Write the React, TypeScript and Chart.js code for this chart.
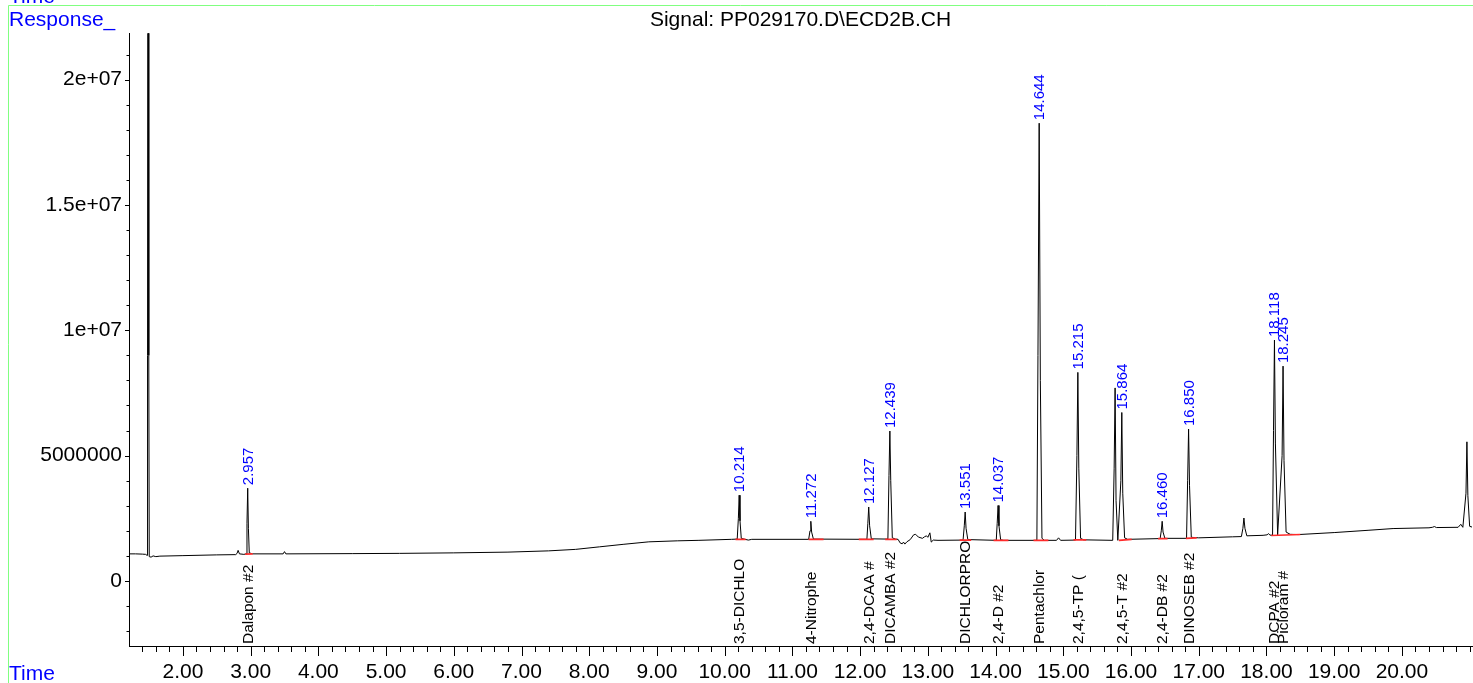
import React, { useEffect, useRef } from "react";
import { Chart, registerables } from "chart.js";

Chart.register(...registerables);

const FONT = '"Liberation Sans", Arial, Helvetica, sans-serif';

const signalTitle = "Signal: PP029170.D\\ECD2B.CH";
const yAxisName = "Response_";
const xAxisName = "Time";

// Chromatogram trace: [retention time (min), response (x 1e6)]
const signal: [number, number][] = [
  [1.204, 1.08], [1.3, 1.08], [1.4, 1.07], [1.45, 1.06], [1.47, 1.02], [1.478, 9.0], [1.487, 60],
  [1.496, 9.0], [1.503, 0.97], [1.53, 0.95], [1.56, 1.0], [1.6, 0.97], [1.66, 0.99], [2.0, 1.01],
  [2.5, 1.04], [2.78, 1.05], [2.8, 1.1], [2.815, 1.22], [2.835, 1.08], [2.9, 1.06], [2.935, 1.08],
  [2.946, 2.3], [2.957, 3.7], [2.967, 2.1], [2.98, 1.12], [3.03, 1.08], [3.48, 1.08], [3.5, 1.17],
  [3.52, 1.08], [4.5, 1.09], [5.2, 1.1], [6.0, 1.12], [6.8, 1.15], [7.4, 1.2], [7.8, 1.26],
  [8.15, 1.36], [8.5, 1.46], [8.88, 1.56], [9.3, 1.6], [9.62, 1.62], [10.1, 1.66], [10.185, 1.67],
  [10.202, 2.5], [10.214, 3.42], [10.226, 2.4], [10.245, 1.7], [10.3, 1.66], [10.35, 1.63],
  [10.4, 1.66], [11.24, 1.66], [11.26, 2.0], [11.272, 2.38], [11.284, 1.95], [11.31, 1.67],
  [12.1, 1.66], [12.114, 2.3], [12.127, 2.95], [12.14, 2.2], [12.165, 1.68], [12.41, 1.67],
  [12.426, 4.2], [12.439, 5.98], [12.452, 4.0], [12.475, 1.72], [12.52, 1.67], [12.56, 1.66],
  [12.59, 1.52], [12.62, 1.48], [12.64, 1.55], [12.66, 1.47], [12.69, 1.56], [12.74, 1.65],
  [12.79, 1.84], [12.82, 1.86], [12.86, 1.75], [12.92, 1.7], [12.95, 1.76], [12.98, 1.8],
  [13.0, 1.74], [13.03, 1.92], [13.05, 1.55], [13.08, 1.63], [13.15, 1.62], [13.52, 1.63],
  [13.538, 2.2], [13.551, 2.75], [13.564, 2.1], [13.59, 1.65], [14.01, 1.62], [14.024, 2.3],
  [14.037, 3.01], [14.05, 2.2], [14.075, 1.64], [14.12, 1.62], [14.61, 1.62], [14.626, 9.0],
  [14.644, 18.26], [14.661, 8.0], [14.685, 1.7], [14.72, 1.62], [14.9, 1.62], [14.93, 1.72],
  [14.96, 1.62], [15.18, 1.63], [15.201, 5.0], [15.215, 8.32], [15.229, 4.5], [15.255, 1.7],
  [15.3, 1.64], [15.73, 1.62], [15.751, 4.5], [15.765, 7.7], [15.779, 3.2], [15.805, 1.62],
  [15.85, 4.0], [15.864, 6.72], [15.878, 3.5], [15.905, 1.72], [15.95, 1.66], [16.43, 1.69],
  [16.447, 2.0], [16.46, 2.38], [16.473, 1.95], [16.5, 1.7], [16.82, 1.7], [16.836, 4.0],
  [16.85, 6.06], [16.864, 3.8], [16.89, 1.74], [17.0, 1.72], [17.5, 1.76], [17.63, 1.77],
  [17.652, 2.1], [17.667, 2.51], [17.682, 2.1], [17.71, 1.8], [17.95, 1.82], [18.01, 1.84],
  [18.03, 1.89], [18.05, 1.83], [18.09, 1.82], [18.104, 6.0], [18.118, 9.61], [18.132, 5.5],
  [18.165, 1.84], [18.231, 5.0], [18.245, 8.57], [18.259, 4.8], [18.29, 1.95], [18.35, 1.86],
  [18.47, 1.85], [19.0, 1.93], [19.5, 2.02], [19.87, 2.09], [20.4, 2.12], [20.45, 2.14],
  [20.48, 2.17], [20.51, 2.13], [20.83, 2.14], [20.87, 2.26], [20.9, 2.14], [20.946, 3.5],
  [20.96, 5.55], [20.974, 3.4], [21.0, 2.18], [21.035, 2.15],
];

// Identified peaks
const peakTimes = [2.957, 10.214, 11.272, 12.127, 12.439, 13.551, 14.037, 14.644, 15.215, 15.864, 16.46, 16.85, 18.118, 18.245];
const peakRtLabels = ["2.957", "10.214", "11.272", "12.127", "12.439", "13.551", "14.037", "14.644", "15.215", "15.864", "16.460", "16.850", "18.118", "18.245"];
const peakNames = ["Dalapon #2", "3,5-DICHLO", "4-Nitrophe", "2,4-DCAA #", "DICAMBA #2", "DICHLORPRO", "2,4-D #2", "Pentachlor", "2,4,5-TP (", "2,4,5-T #2", "2,4-DB #2", "DINOSEB #2", "DCPA #2", "Picloram #"];

// Integration baselines (red): start/end time, start/end response (x 1e6)
const intStart = [2.92, 10.16, 11.24, 11.98, 12.37, 13.47, 13.97, 14.56, 15.15, 15.82, 16.4, 16.81, 18.07];
const intEnd = [3.03, 10.31, 11.46, 12.2, 12.54, 13.64, 14.19, 14.78, 15.34, 16.01, 16.54, 16.97, 18.5];
const intStartResp = [1.07, 1.66, 1.66, 1.66, 1.66, 1.63, 1.62, 1.62, 1.64, 1.62, 1.69, 1.7, 1.81];
const intEndResp = [1.08, 1.66, 1.66, 1.66, 1.66, 1.63, 1.62, 1.62, 1.64, 1.66, 1.69, 1.72, 1.85];

// Axes
const xMin = 1.204;
const xMax = 21.035;
const xMinorStep = 0.2;
const xTickValues = [2, 3, 4, 5, 6, 7, 8, 9, 10, 11, 12, 13, 14, 15, 16, 17, 18, 19, 20];
const xTickLabels = ["2.00", "3.00", "4.00", "5.00", "6.00", "7.00", "8.00", "9.00", "10.00", "11.00", "12.00", "13.00", "14.00", "15.00", "16.00", "17.00", "18.00", "19.00", "20.00"];
const yMin = -2.595e6;
const yMax = 21.85e6;
const yMinorStep = 1e6;
const yTickValues = [0, 5e6, 1e7, 1.5e7, 2e7];
const yTickLabels = ["0", "5000000", "1e+07", "1.5e+07", "2e+07"];

const isIn = (arr: number[], v: number) => arr.some((a) => Math.abs(a - v) < 1e-6 * Math.max(1, Math.abs(a)));

// regular minor tick positions between the scale limits
const stepTicks = (min: number, max: number, step: number) => {
  const out: { value: number }[] = [];
  const first = Math.ceil(min / step - 1e-9);
  const last = Math.floor(max / step + 1e-9);
  for (let k = first; k <= last; k++) out.push({ value: Math.round(k * step * 1e6) / 1e6 });
  return out;
};

export default function App() {
  const ref = useRef<HTMLCanvasElement>(null);

  useEffect(() => {
    const canvas = ref.current;
    if (!canvas) return;

    const annot = {
      id: "annot",
      afterDraw(chart: any) {
        const { ctx, chartArea, scales } = chart;
        const xs = scales.x;
        const ys = scales.y;
        ctx.save();

        // tick marks
        ctx.strokeStyle = "#000";
        ctx.lineWidth = 1;
        ctx.beginPath();
        xs.ticks.forEach((t: any) => {
          const px = Math.round(xs.getPixelForValue(t.value)) + 0.5;
          const len = isIn(xTickValues, t.value) ? 10 : 6;
          ctx.moveTo(px, chartArea.bottom);
          ctx.lineTo(px, chartArea.bottom + len);
        });
        ys.ticks.forEach((t: any) => {
          const py = Math.round(ys.getPixelForValue(t.value)) + 0.5;
          const len = isIn(yTickValues, t.value) ? 4 : 2.5;
          ctx.moveTo(chartArea.left, py);
          ctx.lineTo(chartArea.left - len, py);
        });
        ctx.stroke();

        // integration baselines
        ctx.strokeStyle = "#ff2a2a";
        ctx.lineWidth = 1.6;
        ctx.beginPath();
        intStart.forEach((s, i) => {
          ctx.moveTo(xs.getPixelForValue(s), ys.getPixelForValue(intStartResp[i] * 1e6));
          ctx.lineTo(xs.getPixelForValue(intEnd[i]), ys.getPixelForValue(intEndResp[i] * 1e6));
        });
        ctx.stroke();

        // retention time labels (blue) and compound names (black)
        ctx.textAlign = "left";
        ctx.textBaseline = "alphabetic";
        peakTimes.forEach((t, i) => {
          let best = signal[0];
          signal.forEach((p) => {
            if (Math.abs(p[0] - t) < Math.abs(best[0] - t)) best = p;
          });
          const px = xs.getPixelForValue(t);
          const py = ys.getPixelForValue(best[1] * 1e6);
          ctx.save();
          ctx.fillStyle = "#0000ff";
          ctx.font = `15px ${FONT}`;
          ctx.translate(px + 5, py - 3);
          ctx.rotate(-Math.PI / 2);
          ctx.fillText(peakRtLabels[i], 0, 0);
          ctx.restore();

          ctx.save();
          ctx.fillStyle = "#000";
          ctx.font = `15.5px ${FONT}`;
          ctx.translate(px + 5, chartArea.bottom - 2);
          ctx.rotate(-Math.PI / 2);
          ctx.fillText(peakNames[i], 0, 0);
          ctx.restore();
        });

        // frame and axis names
        ctx.strokeStyle = "rgb(128,255,128)";
        ctx.lineWidth = 1;
        ctx.beginPath();
        ctx.moveTo(chart.width, 5.5);
        ctx.lineTo(8.5, 5.5);
        ctx.lineTo(8.5, chart.height);
        ctx.stroke();

        ctx.fillStyle = "#0000ff";
        ctx.font = `21px ${FONT}`;
        ctx.textAlign = "left";
        ctx.textBaseline = "alphabetic";
        ctx.fillText(xAxisName, 9, 2.5);
        ctx.fillText(yAxisName, 9, 26);
        ctx.fillText(xAxisName, 9, 680);
        ctx.restore();
      },
    };

    const chart = new Chart(canvas, {
      type: "line",
      data: {
        datasets: [
          {
            data: signal.map(([t, v]) => ({ x: t, y: v * 1e6 })),
            borderColor: "#000",
            borderWidth: 1,
            pointRadius: 0,
            tension: 0,
            fill: false,
          },
        ],
      },
      options: {
        animation: false,
        responsive: false,
        devicePixelRatio: 1,
        events: [],
        layout: { padding: { top: 0, right: 1, bottom: 0, left: 0 } },
        plugins: {
          legend: { display: false },
          tooltip: { enabled: false },
          title: {
            display: true,
            text: signalTitle,
            color: "#000",
            fullSize: false,
            font: { family: FONT, size: 21, weight: "normal" },
            padding: { top: 8, bottom: 0 },
          },
        },
        scales: {
          x: {
            type: "linear",
            min: xMin,
            max: xMax,
            grid: { display: false, drawTicks: false },
            border: { display: true, color: "#000", width: 1 },
            ticks: {
              autoSkip: false,
              maxRotation: 0,
              minRotation: 0,
              padding: 14,
              color: "#000",
              font: { family: FONT, size: 21 },
              callback: (v: any) => {
                const i = xTickValues.findIndex((t) => Math.abs(t - Number(v)) < 1e-6);
                return i >= 0 ? xTickLabels[i] : "";
              },
            },
            afterBuildTicks: (s: any) => {
              s.ticks = stepTicks(s.min, s.max, xMinorStep);
            },
            afterFit: (s: any) => {
              s.height = 37;
              s.paddingLeft = 0;
              s.paddingRight = 0;
            },
          },
          y: {
            type: "linear",
            min: yMin,
            max: yMax,
            grid: { display: false, drawTicks: false },
            border: { display: true, color: "#000", width: 1 },
            ticks: {
              autoSkip: false,
              padding: 7,
              color: "#000",
              font: { family: FONT, size: 21 },
              callback: (v: any) => {
                const i = yTickValues.findIndex((t) => Math.abs(t - Number(v)) < 1);
                return i >= 0 ? yTickLabels[i] : "";
              },
            },
            afterBuildTicks: (s: any) => {
              s.ticks = stepTicks(s.min, s.max, yMinorStep);
            },
            afterFit: (s: any) => {
              s.width = 129;
              s.paddingTop = 0;
              s.paddingBottom = 0;
            },
          },
        },
      } as any,
      plugins: [annot],
    });

    return () => chart.destroy();
  }, []);

  return (
    <div style={{ position: "fixed", left: 0, top: 0, width: 1473, height: 683, background: "#fff" }}>
      <canvas ref={ref} width={1473} height={683} style={{ width: 1473, height: 683, display: "block" }} />
    </div>
  );
}
